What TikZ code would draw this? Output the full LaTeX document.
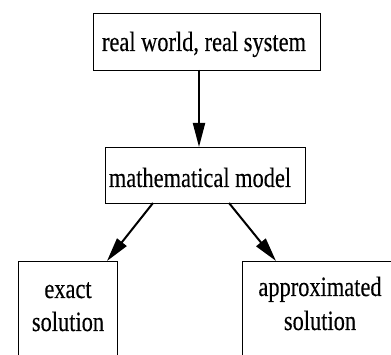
\documentclass[tikz,border=0pt]{standalone}
\usepackage{fontspec}
\setmainfont{Liberation Serif}[FakeStretch=0.8,FakeBold=0.25]
\usetikzlibrary{arrows.meta}
\begin{document}
\begin{tikzpicture}[x=1pt,y=-1pt,
  box/.style={draw,line width=1.1pt,rectangle,inner sep=0pt,anchor=north west},
  txt/.style={inner sep=0pt,align=center,font=\fontsize{28}{32}\selectfont},
  arr/.style={line width=2pt,-{Triangle[length=24pt,width=12pt]}}]
\useasboundingbox (0,0) rectangle (391,355);
\clip (0,0) rectangle (391,355);
% boxes
\node[box,minimum width=227pt,minimum height=57pt] (real) at (93,13) {};
\node[box,minimum width=200pt,minimum height=56pt] (mm) at (105,147) {};
\node[box,minimum width=99pt,minimum height=140pt] (ex) at (18,261) {};
\node[box,minimum width=200pt,minimum height=140pt] (ap) at (242,261) {};
% texts
\node[txt,anchor=base] (trealtxt) at (204,51) {real world, real system};
\node[txt,anchor=base] (tmm) at (200,187) {mathematical model};
\node[txt,anchor=base] (tex1) at (68,298) {exact};
\node[txt,anchor=base] (tex2) at (68,331) {solution};
\node[txt,anchor=base] (tap1) at (320,296) {approximated};
\node[txt,anchor=base] (tap2) at (320,330) {solution};
% connector endpoints
\coordinate (a1) at (199,70);
\coordinate (a2) at (199,147);
\coordinate (b1) at (153,203);
\coordinate (b2) at (107,261);
\coordinate (c1) at (229,203);
\coordinate (c2) at (276,261);
\draw[arr] (a1) -- (a2);
\draw[arr] (b1) -- (b2);
\draw[arr] (c1) -- (c2);
\end{tikzpicture}
\end{document}
